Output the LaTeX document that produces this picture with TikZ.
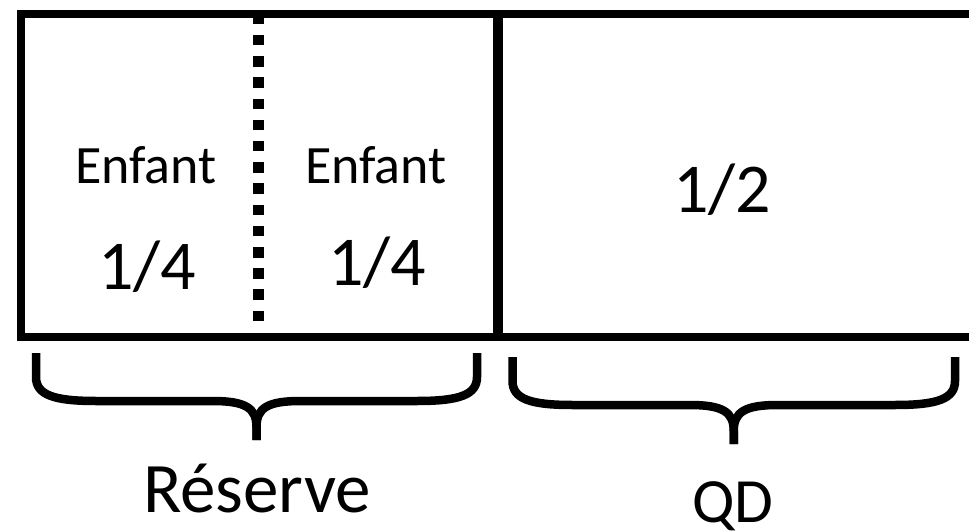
\documentclass[tikz,border=0pt]{standalone}
\usepackage{fontspec}
\setmainfont{Carlito}
\usepackage{tikz}
\def\curlybrace#1#2#3{%
	\pgfmathsetmacro\bracemid{(#1+#2)/2}
	\draw[brace line] (#1,#3) -- (#1,#3+24) .. controls (#1,#3+42) and (#1+18,#3+48) .. (#1+60,#3+48)
		-- (\bracemid-44,#3+48) .. controls (\bracemid-11,#3+48) and (\bracemid,#3+55) .. (\bracemid,#3+74) -- (\bracemid,#3+87);
	\draw[brace line] (#2,#3) -- (#2,#3+24) .. controls (#2,#3+42) and (#2-18,#3+48) .. (#2-60,#3+48)
		-- (\bracemid+44,#3+48) .. controls (\bracemid+11,#3+48) and (\bracemid,#3+55) .. (\bracemid,#3+74) -- (\bracemid,#3+87);
}

\begin{document}
\begin{tikzpicture}[x=1pt,y=-1pt,
					frame line/.style={line width=8pt},
					brace line/.style={line width=8.5pt},
					part text/.style={anchor=base,inner sep=0pt,font=\fontsize{54}{60}\selectfont},
					share text/.style={anchor=base,inner sep=0pt,font=\fontsize{70}{80}\selectfont}]
				\useasboundingbox (0,0) rectangle (969,532);
				\clip (0,0) rectangle (969,532);
				% cadre
				\draw[frame line] (990,14) -- (21,14) -- (21,337) -- (990,337);
				\draw[line width=9.5pt] (498,14) -- (498,337);
				\draw[line width=11pt,dash pattern=on 10.5pt off 10.7pt] (258.5,13.8) -- (258.5,323);
				% textes
				\node[part text] (enfantA) at (146,183) {Enfant};
				\node[part text] (enfantB) at (376,183) {Enfant};
				\node[share text] (quartA) at (147,289) {1/4};
				\node[share text] (quartB) at (377,285) {1/4};
				\node[share text] (moitie) at (722,212) {1/2};
				% accolades
				\curlybrace{36}{477}{353}
				\curlybrace{512.5}{955}{357}
				\node[anchor=base,inner sep=0pt,font=\fontsize{71}{80}\selectfont] (reserve) at (257,512) {Réserve};
				\node[anchor=base,inner sep=0pt,font=\fontsize{63}{70}\selectfont] (qd) at (733,522) {QD};
			\end{tikzpicture}
\end{document}
